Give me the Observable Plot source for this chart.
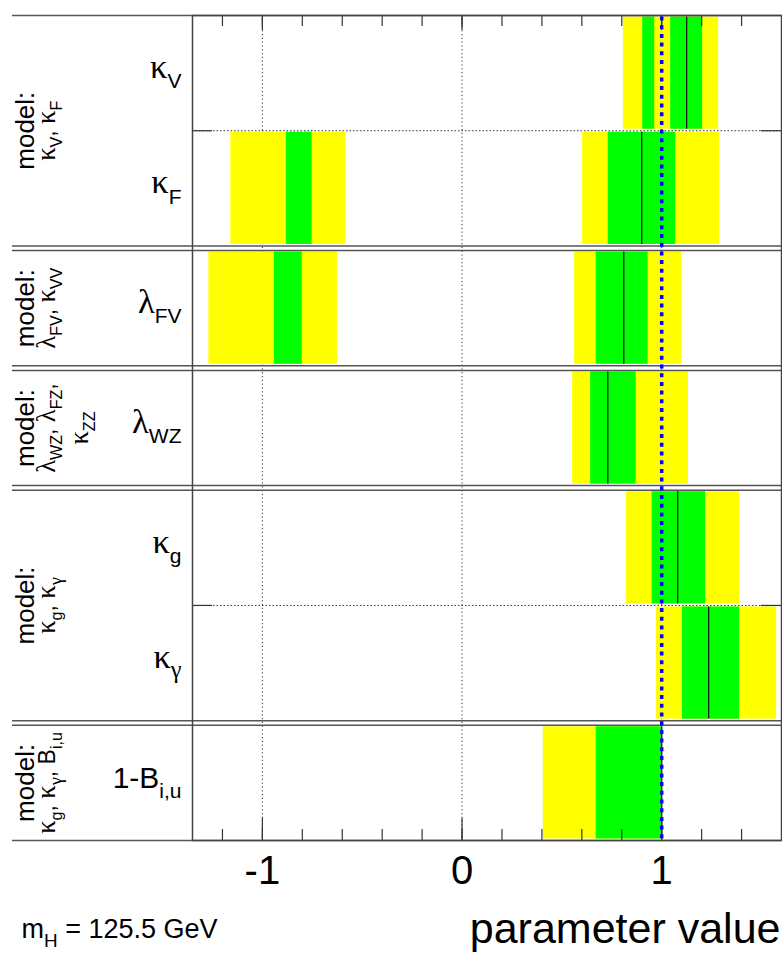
<!DOCTYPE html>
<html><head><meta charset="utf-8">
<script src="https://cdn.jsdelivr.net/npm/d3@7"></script>
<script src="https://cdn.jsdelivr.net/npm/@observablehq/plot@0.6"></script>
<style>
body{margin:0;background:#fff;font-family:"Liberation Sans",Arial,sans-serif;}
#wrap{position:relative;width:782px;height:953px;overflow:hidden;background:#fff;}
#title{position:absolute;left:386px;top:-23px;font-size:28px;line-height:28px;white-space:nowrap;color:#000;}
#chart{position:absolute;left:0;top:0;}
</style></head><body>
<div id="wrap"><div id="title">√s = 8 TeV, ∫Ldt = 20.7 fb<sup>-1</sup></div><div id="chart"></div></div>
<script>
// ---- data ----
const panelLabels = [
  ["model:", "κ_{V}, κ_{F}"],
  ["model:", "λ_{FV}, κ_{VV}"],
  ["model:", "λ_{WZ}, λ_{FZ},", "κ_{ZZ}"],
  ["model:", "κ_{g}, κ_{γ}"],
  ["model:", "κ_{g}, κ_{γ}, B_{i,u}"]
];
const params = ["κ_{V}", "κ_{F}", "λ_{FV}", "λ_{WZ}", "κ_{g}", "κ_{γ}", "1-B_{i,u}"];
const paramPanel = [0, 0, 1, 2, 3, 3, 4];
const bestFit = [1.125, 0.90, 0.81, 0.73, 1.08, 1.235, 1.0];
const sigma1 = [
  [[0.905, 0.965], [1.045, 1.205]],
  [[-0.880, -0.751], [0.732, 1.07]],
  [[-0.940, -0.800], [0.672, 0.932]],
  [[0.644, 0.872]],
  [[0.952, 1.22]],
  [[1.104, 1.39]],
  [[0.672, 1.0]]
];
const sigma2 = [
  [[0.808, 1.285]],
  [[-1.158, -0.582], [0.604, 1.29]],
  [[-1.268, -0.624], [0.564, 1.10]],
  [[0.554, 1.134]],
  [[0.824, 1.39]],
  [[0.974, 1.576]],
  [[0.407, 1.0]]
];
const xDomain = [-1.35, 1.6];
const xTicks = [-1, 0, 1];
const minorTicks = [-1.2, -1.0, -0.8, -0.6, -0.4, -0.2, 0, 0.2, 0.4, 0.6, 0.8, 1.0, 1.2, 1.4];
const smValue = 1;
const xLabel = "parameter value";
const massLabel = "m_{H} = 125.5 GeV";

// ---- layout in row units ----
const gap = 0.04;
const panelTop = [], panelBottom = [], rowTop = [];
let c = 0;
panelLabels.forEach((_, p) => {
  panelTop[p] = c;
  params.forEach((_, i) => { if (paramPanel[i] === p) { rowTop[i] = c; c += 1; } });
  panelBottom[p] = c;
  c += gap;
});
const total = c - gap;

const W = 782, H = 953, mT = 15, mB = 113, mL = 192, mR = 1;
const plotH = H - mT - mB;
const plotW = W - mL - mR;

const rowsData = params.map((label, i) => ({label, top: rowTop[i], bot: rowTop[i] + 1, mid: rowTop[i] + 0.5, best: bestFit[i]}));
const y2 = sigma2.flatMap((ints, i) => ints.map(([lo, hi]) => ({lo, hi, top: rowTop[i], bot: rowTop[i] + 1})));
const y1 = sigma1.flatMap((ints, i) => ints.map(([lo, hi]) => ({lo, hi, top: rowTop[i], bot: rowTop[i] + 1})));
const seps = params.map((_, i) => rowTop[i]).filter((t, i) => t > panelTop[paramPanel[i]]);
const panelLines = panelTop.concat(panelBottom);
const modelData = panelLabels.flatMap((lines, p) => lines.map((t, k) => ({t, k, center: (panelTop[p] + panelBottom[p]) / 2})));
const baseX = [33, 54, 87];

const modelMarks = [0, 1, 2].map(k => Plot.text(modelData.filter(d => d.k === k), {
  text: "t", y: "center", frameAnchor: "left", rotate: -90, textAnchor: "middle",
  lineAnchor: "bottom", dx: baseX[k] - mL, fontSize: k === 0 ? 26 : 23, fill: "#000"
}));

const chart = Plot.plot({
  width: W, height: H,
  marginTop: mT, marginBottom: mB, marginLeft: mL, marginRight: mR,
  style: {fontFamily: "Liberation Sans, Arial, sans-serif", background: "#fff", color: "#000"},
  x: {domain: xDomain},
  y: {domain: [total, 0], axis: null},
  marks: [
    Plot.ruleX(xTicks, {x: d => d, stroke: "#333", strokeWidth: 1, strokeDasharray: "1.2 2.6"}),
    Plot.rect(y2, {x1: "lo", x2: "hi", y1: "top", y2: "bot", fill: "#ffff00", insetTop: 1.5, insetBottom: 1.5}),
    Plot.rect(y1, {x1: "lo", x2: "hi", y1: "top", y2: "bot", fill: "#00ff00", insetTop: 1.5, insetBottom: 1.5}),
    Plot.ruleX(rowsData.filter(d => d.best != null), {x: "best", y1: "top", y2: "bot", stroke: "#1a1a1a", strokeWidth: 1.3, insetTop: 1.5, insetBottom: 1.5}),
    Plot.ruleY(seps, {y: d => d, stroke: "#333", strokeWidth: 1, strokeDasharray: "1.5 2"}),
    Plot.ruleY(seps, {y: d => d, stroke: "#333", strokeWidth: 1.2, insetRight: plotW - 20}),
    Plot.ruleY(seps, {y: d => d, stroke: "#333", strokeWidth: 1.2, insetLeft: plotW - 20}),
    Plot.ruleX(minorTicks, {x: d => d, stroke: "#333", strokeWidth: 1.2, insetBottom: plotH - 11}),
    Plot.ruleX(minorTicks, {x: d => d, stroke: "#333", strokeWidth: 1.2, insetTop: plotH - 11}),
    Plot.ruleX(xTicks, {x: d => d, stroke: "#333", strokeWidth: 1.2, insetBottom: plotH - 15}),
    Plot.ruleX(xTicks, {x: d => d, stroke: "#333", strokeWidth: 1.2, insetTop: plotH - 22}),
    Plot.ruleY(panelLines, {y: d => d, stroke: "#555", strokeWidth: 1.5, insetLeft: -(mL - 12)}),
    Plot.frame({stroke: "#444", strokeWidth: 1.5}),
    Plot.ruleX([smValue], {x: d => d, stroke: "#0000ff", strokeWidth: 3.5, strokeDasharray: "4 4.7", insetTop: 1.5}),
    Plot.axisX({ticks: xTicks, anchor: "bottom", tickSize: 0, tickPadding: 15, fontSize: 40, tickFormat: d => String(d), label: null}),
    Plot.text(rowsData, {text: "label", y: "mid", frameAnchor: "left", dx: -11, dy: 5, textAnchor: "end", lineAnchor: "bottom", fontSize: 30, fill: "#000"}),
    ...modelMarks,
    Plot.text([xLabel], {text: d => d, frameAnchor: "bottom-right", textAnchor: "end", lineAnchor: "bottom", dx: -1, dy: 102, fontSize: 43, fill: "#000"}),
    Plot.text([massLabel], {text: d => d, frameAnchor: "bottom-left", textAnchor: "start", lineAnchor: "bottom", dx: 21 - mL, dy: 97, fontSize: 27, fill: "#000"})
  ]
});
document.getElementById("chart").appendChild(chart);

// ---- rich text: subscripts and serif Greek ----
const NS = "http://www.w3.org/2000/svg";
const greekRe = /[α-ωΑ-Ω]/;
function addRuns(el, str, size, dyFirst) {
  const runs = str.match(/[α-ωΑ-Ω]+|[^α-ωΑ-Ω]+/g) || [];
  runs.forEach((r, k) => {
    const t = document.createElementNS(NS, "tspan");
    t.textContent = r;
    const g = greekRe.test(r);
    t.setAttribute("font-size", (g ? size * 1.15 : size).toFixed(2));
    if (g) t.setAttribute("font-family", "Liberation Serif, DejaVu Serif, serif");
    if (k === 0 && dyFirst) t.setAttribute("dy", dyFirst.toFixed(2));
    el.appendChild(t);
  });
}
chart.querySelectorAll("text").forEach(el => {
  const s = el.textContent;
  if (!s.includes("_{") && !greekRe.test(s)) return;
  const fs = parseFloat(getComputedStyle(el).fontSize);
  const subFs = fs * 0.7, shift = fs * 0.34;
  const parts = s.split(/_\{([^}]*)\}/);
  el.textContent = "";
  let pending = 0;
  parts.forEach((p, j) => {
    if (!p) return;
    if (j % 2 === 1) { addRuns(el, p, subFs, shift + pending); pending = -shift; }
    else { addRuns(el, p, fs, pending); pending = 0; }
  });
});
</script>
</body></html>
